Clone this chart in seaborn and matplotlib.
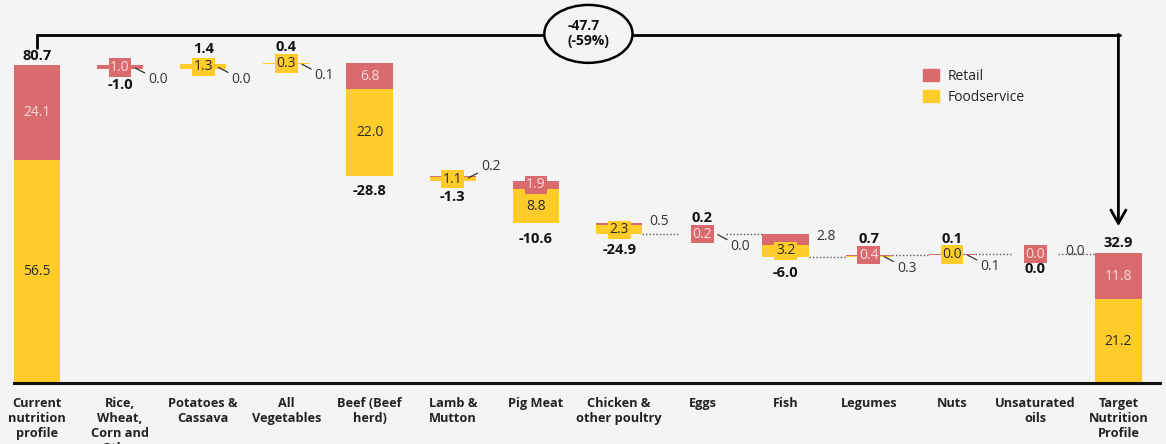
import numpy as np
import pandas as pd
import matplotlib.pyplot as plt
from matplotlib.patches import Ellipse, Patch
import seaborn as sns

# data
categories = ['Current\nnutrition\nprofile', 'Rice,\nWheat,\nCorn and\nOther', 'Potatoes &\nCassava',
              'All\nVegetables', 'Beef (Beef\nherd)', 'Lamb &\nMutton', 'Pig Meat',
              'Chicken &\nother poultry', 'Eggs', 'Fish', 'Legumes', 'Nuts',
              'Unsaturated\noils', 'Target\nNutrition\nProfile']
retail = [24.1, 1.0, 0.0, 0.1, 6.8, 0.2, 1.9, 0.5, 0.2, 2.8, 0.4, 0.1, 0.0, 11.8]
foodservice = [56.5, 0.0, 1.3, 0.3, 22.0, 1.1, 8.8, 2.3, 0.0, 3.2, 0.3, 0.0, 0.0, 21.2]
totals = [80.7, -1.0, 1.4, 0.4, -28.8, -1.3, -10.6, -24.9, 0.2, -6.0, 0.7, 0.1, 0.0, 32.9]
boxed = ['both', 'retail', 'food', 'food', 'both', 'food', 'both', 'food',
         'retail', 'food', 'retail', 'food', 'retail', 'both']
change_label = '-47.7\n(-59%)'

BG = '#F4F4F4'
RED = '#D96A6E'
YELLOW = '#FFCC29'

sns.set_theme(style='white', rc={'axes.facecolor': BG, 'figure.facecolor': BG})
plt.rcParams['font.family'] = ['Open Sans', 'DejaVu Sans']

# waterfall bottoms
n = len(categories)
bottom = np.zeros(n)
level_after = np.zeros(n)
level = retail[0] + foodservice[0]
level_after[0] = level
for i in range(1, n - 1):
    step = retail[i] + foodservice[i]
    if totals[i] > 0:
        bottom[i] = level
        level += step
    else:
        level -= step
        bottom[i] = level
    level_after[i] = level

df = pd.DataFrame({'category': categories, 'retail': retail, 'food': foodservice, 'bottom': bottom})
df['mid'] = df['bottom'] + df['food']

fig = plt.figure(figsize=(11.66, 4.44), dpi=100)
ax = fig.add_axes([13.5 / 1166, 61 / 444, (1160 - 13.5) / 1166, 383 / 444])

W = 0.56
sns.barplot(data=df, x='category', y='food', bottom=df['bottom'].values, color=YELLOW,
            saturation=1, width=W, errorbar=None, linewidth=0, ax=ax)
sns.barplot(data=df, x='category', y='retail', bottom=df['mid'].values, color=RED,
            saturation=1, width=W, errorbar=None, linewidth=0, ax=ax)

ax.set_xlim(-0.28, 13.5)
ax.set_ylim(0, 97.2)
ax.set_xlabel('')
ax.set_ylabel('')
ax.set_yticks([])
for s in ['top', 'left', 'right']:
    ax.spines[s].set_visible(False)
ax.spines['bottom'].set_linewidth(2.2)
ax.spines['bottom'].set_color('#111111')
ax.tick_params(axis='x', length=0, pad=10)
for t in ax.get_xticklabels():
    t.set_fontweight('bold')
    t.set_fontsize(9.2)
    t.set_color('#222222')
    t.set_linespacing(1.2)

# labels inside / on the bars
def box_label(x, y, v, color, txt):
    ax.text(x, y, f'{v:.1f}', ha='center', va='center', fontsize=10, color=txt, zorder=5,
            bbox=dict(boxstyle='square,pad=0.12', fc=color, ec='none'))

outside_dir = [None, 'down', 'down', 'down', None, 'up', None, 'right', 'down', 'right',
               'down', 'down', 'right', None]

for i in range(n):
    lo = bottom[i]
    f = foodservice[i]
    r = retail[i]
    if boxed[i] in ('both', 'food'):
        box_label(i, lo + f / 2, f, YELLOW, '#2a2a2a')
    if boxed[i] in ('both', 'retail'):
        box_label(i, lo + f + r / 2, r, RED, '#F8DCDC')

    if outside_dir[i] is not None:
        if boxed[i] == 'food':
            v, yc = r, lo + f + r / 2
        else:
            v, yc = f, lo + f / 2
        if outside_dir[i] == 'right':
            ax.annotate(f'{v:.1f}', xy=(i + 0.3, yc), xytext=(4, 2), textcoords='offset points',
                        ha='left', va='center', fontsize=10, color='#333333')
        else:
            dy = -9 if outside_dir[i] == 'down' else 9
            ax.annotate(f'{v:.1f}', xy=(i + 0.17, lo + (f + r) / 2), xytext=(10, dy),
                        textcoords='offset points', ha='left', va='center', fontsize=10,
                        color='#333333',
                        arrowprops=dict(arrowstyle='-', lw=0.9, color='#333333',
                                        shrinkA=0, shrinkB=1))

    # bold totals
    top = lo + f + r
    if i in (0, n - 1):
        ax.annotate(f'{totals[i]:.1f}', xy=(i, top), xytext=(0, 7), textcoords='offset points',
                    ha='center', va='center', fontsize=10.5, fontweight='bold', color='#111111')
    elif totals[i] > 0:
        ax.annotate(f'{totals[i]:.1f}', xy=(i, top), xytext=(0, 11), textcoords='offset points',
                    ha='center', va='center', fontsize=10.5, fontweight='bold', color='#111111')
    else:
        ax.annotate(f'{totals[i]:.1f}', xy=(i, lo), xytext=(0, -11), textcoords='offset points',
                    ha='center', va='center', fontsize=10.5, fontweight='bold', color='#111111')

# dotted connectors
for i in range(7, n - 1):
    y = level_after[i]
    ax.plot([i + W / 2, i + 1 - W / 2], [y, y], ls=(0, (1, 1.5)), color='#555555', lw=1, zorder=1)

# overall change bracket
ax.plot([0, 0, 13.02], [85.0, 88.3, 88.3], color='black', lw=2, clip_on=False,
        solid_joinstyle='miter', zorder=6)
ax.annotate('', xy=(13, 39.8), xytext=(13, 88.5),
            arrowprops=dict(arrowstyle='->,head_length=0.8,head_width=0.45', lw=2, color='black',
                            shrinkA=0, shrinkB=0), zorder=6)
ax.add_patch(Ellipse((6.63, 88.6), 1.06, 14.7, fc=BG, ec='black', lw=1.8, clip_on=False, zorder=7))
ax.text(6.63, 88.6, change_label, ha='center', va='center', multialignment='left', fontsize=10,
        fontweight='bold', color='#111111', zorder=8, linespacing=1.1)

handles = [Patch(color=RED, label='Retail'), Patch(color=YELLOW, label='Foodservice')]
fig.legend(handles=handles, loc='upper left', bbox_to_anchor=(916 / 1166, 1 - 62 / 444),
           frameon=False, fontsize=10, handlelength=1.15, handleheight=0.95,
           handletextpad=0.6, labelspacing=0.45, borderpad=0, labelcolor='#222222')

fig.savefig('out.png', dpi=100, facecolor=BG)
